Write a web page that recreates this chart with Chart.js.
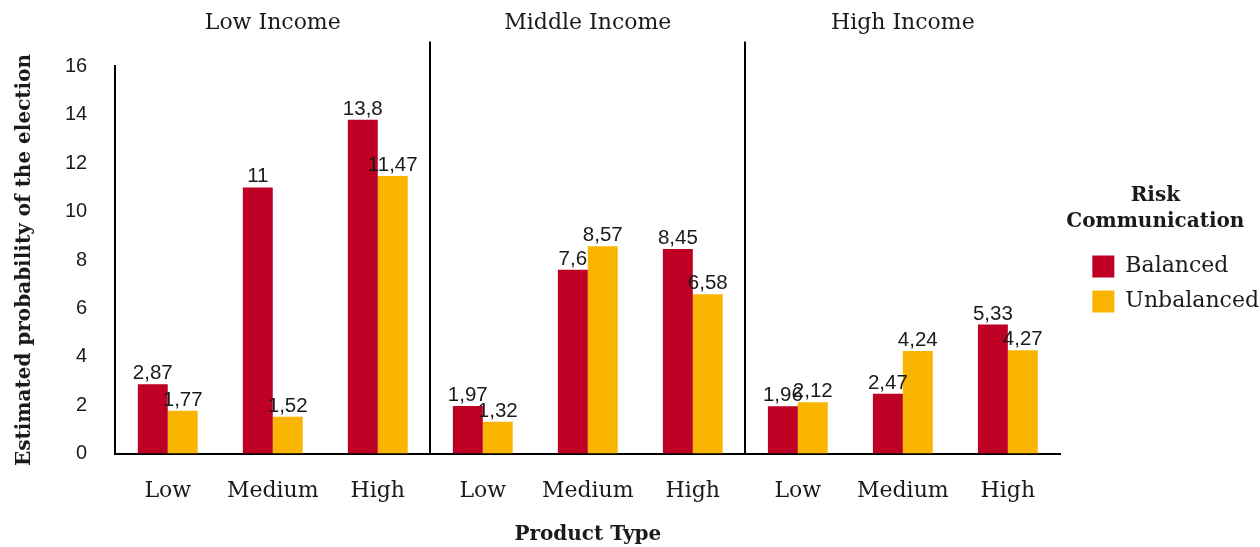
<!DOCTYPE html>
<html>
<head>
<meta charset="utf-8">
<script src="https://cdn.jsdelivr.net/npm/chart.js@4.4.1/dist/chart.umd.min.js"></script>
<style>
  html, body { margin: 0; padding: 0; background: #fff; }
  #wrap { width: 1260px; height: 547px; position: relative; }
</style>
</head>
<body>
<div id="wrap"><canvas id="chart"></canvas></div>
<script>
// income panels, product categories, series values
const incomeGroups = ['Low Income', 'Middle Income', 'High Income'];
const productTypes = ['Low', 'Medium', 'High', 'Low', 'Medium', 'High', 'Low', 'Medium', 'High'];
const balanced     = [2.87, 11, 13.8, 1.97, 7.6, 8.45, 1.96, 2.47, 5.33];
const unbalanced   = [1.77, 1.52, 11.47, 1.32, 8.57, 6.58, 2.12, 4.24, 4.27];
const seriesNames  = ['Balanced', 'Unbalanced'];
const legendTitleLines = ['Risk', 'Communication'];

const RED    = '#bd0023';
const YELLOW = '#f9b500';
const INK    = '#1a1a1a';
const SERIF  = 'DejaVu Serif';
const SANS   = 'Liberation Sans';

// value labels above each bar, decimal comma
const valueLabels = {
  id: 'valueLabels',
  afterDatasetsDraw(chart) {
    const ctx = chart.ctx;
    ctx.save();
    ctx.font = '20.5px "' + SANS + '"';
    ctx.fillStyle = INK;
    ctx.textAlign = 'center';
    ctx.textBaseline = 'alphabetic';
    chart.data.datasets.forEach((ds, i) => {
      chart.getDatasetMeta(i).data.forEach((bar, j) => {
        ctx.fillText(String(ds.data[j]).replace('.', ','), bar.x, bar.y - 5);
      });
    });
    ctx.restore();
  }
};

// two-line legend heading, centred a bit left of the legend box
const legendHeading = {
  id: 'legendHeading',
  afterDraw(chart) {
    const first = chart.legend.legendHitBoxes[0];
    if (!first) return;
    const ctx = chart.ctx;
    ctx.save();
    ctx.font = 'bold 20px "' + SERIF + '"';
    ctx.fillStyle = INK;
    ctx.textAlign = 'center';
    ctx.textBaseline = 'middle';
    legendTitleLines.forEach((t, i) => {
      ctx.fillText(t, first.left + 63, first.top - 60 + i * 26);
    });
    ctx.restore();
  }
};

new Chart(document.getElementById('chart'), {
  type: 'bar',
  data: {
    labels: productTypes,
    datasets: [
      { label: seriesNames[0], data: balanced,   backgroundColor: RED,    xAxisID: 'x', yAxisID: 'y' },
      { label: seriesNames[1], data: unbalanced, backgroundColor: YELLOW, xAxisID: 'x', yAxisID: 'y' }
    ]
  },
  options: {
    responsive: true,
    maintainAspectRatio: false,
    animation: false,
    categoryPercentage: 0.57,
    barPercentage: 1,
    layout: { padding: { top: 5, right: -9, left: 13, bottom: 0 } },
    scales: {
      x: {
        position: 'bottom',
        grid:   { display: false },
        border: { color: '#000', width: 2 },
        ticks:  { color: INK, font: { family: SERIF, size: 22 }, padding: 16, maxRotation: 0, autoSkip: false },
        title:  { display: true, text: 'Product Type', color: INK,
                  font: { family: SERIF, size: 20, weight: 'bold' }, padding: { top: 3, bottom: 0 } }
      },
      groups: {
        type: 'category',
        position: 'top',
        labels: incomeGroups,
        offset: true,
        border: { display: false },
        grid: {
          offset: true,
          lineWidth: 2,
          tickLength: 25,
          color: c => (c.index === 1 || c.index === 2) ? '#000' : 'rgba(0,0,0,0)'
        },
        ticks: { color: INK, font: { family: SERIF, size: 22 }, padding: 5, maxRotation: 0 }
      },
      y: {
        min: 0,
        max: 16,
        grid:   { display: false },
        border: { color: '#000', width: 2 },
        ticks:  { stepSize: 2, color: INK, font: { family: SANS, size: 20 }, padding: 20 },
        title:  { display: true, text: 'Estimated probability of the election', color: INK,
                  font: { family: SERIF, size: 20, weight: 'bold' }, padding: { top: 0, bottom: 8 } }
      },
      // empty strip between plot and legend
      gap: {
        type: 'linear',
        position: 'right',
        grid:   { display: false },
        border: { display: false },
        ticks:  { display: false },
        afterFit: s => { s.width = 19; }
      }
    },
    plugins: {
      tooltip: { enabled: false },
      legend: {
        position: 'right',
        // heading space is reserved here, text drawn by legendHeading
        title: {
          display: true,
          text: legendTitleLines,
          color: 'rgba(0,0,0,0)',
          font: { family: SERIF, size: 20, weight: 'bold', lineHeight: 1.3 },
          padding: { top: -42, bottom: 32 }
        },
        labels: {
          boxWidth: 22,
          boxHeight: 22,
          padding: 13,
          color: INK,
          font: { family: SERIF, size: 22 }
        }
      }
    }
  },
  plugins: [valueLabels, legendHeading]
});
</script>
</body>
</html>
